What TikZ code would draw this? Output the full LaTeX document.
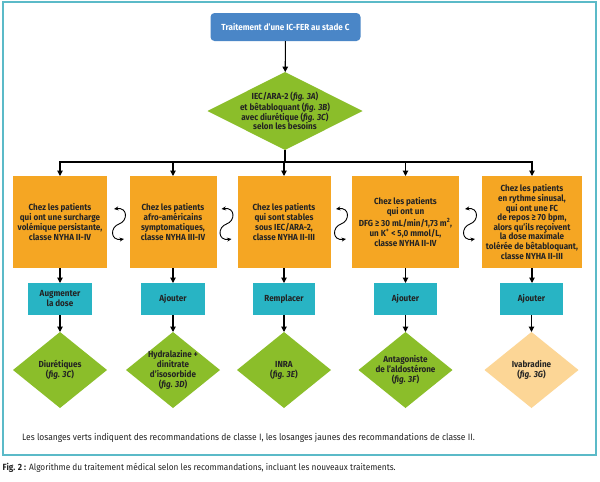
\documentclass[tikz,border=0pt]{standalone}
\usepackage{fontspec}
\setmainfont{Fira Sans}[FakeStretch=0.92]
\usetikzlibrary{shapes.geometric,arrows.meta}
\definecolor{cblue}{RGB}{74,134,199}
\definecolor{cgreen}{RGB}{139,190,42}
\definecolor{corange}{RGB}{245,166,35}
\definecolor{cteal}{RGB}{40,180,196}
\definecolor{cyellow}{RGB}{252,214,150}
\definecolor{cframe}{RGB}{91,186,200}
\definecolor{ctext}{RGB}{35,35,35}
\begin{document}
\begin{tikzpicture}[x=1pt,y=-1pt,
  bxfont/.style={font=\bfseries\fontsize{8.8}{10}\selectfont},
  obox/.style={rectangle, fill=corange, minimum width=#1, minimum height=92, inner sep=0, outer sep=0, bxfont, text=ctext, align=center},
  tbox/.style={rectangle, fill=cteal, minimum width=#1, minimum height=32, inner sep=0, outer sep=0, bxfont, text=ctext, align=center},
  gdiam/.style={diamond, fill=#1, minimum width=94, minimum height=76, inner sep=0, outer sep=0},
  lbl/.style={bxfont, text=ctext, align=center, inner sep=0},
  arr/.style={line width=1.1, draw=black, -{Triangle[length=5.5,width=5.5]}},
  conn/.style={line width=1.1, draw=black},
  carr/.style={line width=0.9, draw=black, {Stealth[length=4.5,width=4]}-{Stealth[length=4.5,width=4]}},
  smallfont/.style={font=\fontsize{9.2}{10}\selectfont}
]
\useasboundingbox (0,0) rectangle (600,482);
\fill[white] (0,0) rectangle (600,482);
\draw[cframe, line width=2] (3,1.5) rectangle (595.5,455);

% top
\node[rectangle, rounded corners=4, fill=cblue, minimum width=150, minimum height=28, inner sep=0, outer sep=0, bxfont, text=white] (top) at (285.5,27) {Traitement d'une IC-FER au stade C};
\node[diamond, fill=cgreen, minimum width=155, minimum height=78, inner sep=0, outer sep=0,
  label={[lbl, font=\bfseries\fontsize{8.8}{9.2}\selectfont]center:{IEC/ARA-2 (\textit{fig. 3A})\\et bêtabloquant (\textit{fig. 3B})\\avec diurétique (\textit{fig. 3C})\\selon les besoins}}] (d1) at (285,111) {};

% orange boxes
\node[obox=94] (o1) at (60,222) {Chez les patients\\qui ont une surcharge\\volémique persistante,\\classe NYHA II-IV};
\node[obox=87] (o2) at (173,222) {Chez les patients\\afro-américains\\symptomatiques,\\classe NYHA III-IV};
\node[obox=93] (o3) at (284,222) {Chez les patients\\qui sont stables\\sous IEC/ARA-2,\\classe NYHA II-III};
\node[obox=107] (o4) at (405.5,222) {Chez les patients\\qui ont un\\DFG ≥ 30 mL/min/1,73 m\textsuperscript{2},\\un K\textsuperscript{+} < 5,0 mmol/L,\\classe NYHA II-IV};
\node[obox=100, font=\bfseries\fontsize{8.8}{9.6}\selectfont] (o5) at (532,222) {Chez les patients\\en rythme sinusal,\\qui ont une FC\\de repos ≥ 70 bpm,\\alors qu'ils reçoivent\\la dose maximale\\tolérée de bêtabloquant,\\classe NYHA II-III};

% teal boxes
\node[tbox=64] (t1) at (60,299) {Augmenter\\la dose};
\node[tbox=64] (t2) at (173,299) {Ajouter};
\node[tbox=62] (t3) at (284,299) {Remplacer};
\node[tbox=63] (t4) at (405.5,299) {Ajouter};
\node[tbox=63] (t5) at (531.5,299) {Ajouter};

% diamonds
\node[gdiam=cgreen, label={[lbl]center:{Diurétiques\\(\textit{fig. 3C})}}] (g1) at (60,370) {};
\node[gdiam=cgreen, label={[lbl]center:{Hydralazine +\\dinitrate\\d'isosorbide\\(\textit{fig. 3D})}}] (g2) at (173,370) {};
\node[gdiam=cgreen, label={[lbl]center:{INRA\\(\textit{fig. 3E})}}] (g3) at (284,370) {};
\node[gdiam=cgreen, label={[lbl]center:{Antagoniste\\de l'aldostérone\\(\textit{fig. 3F})}}] (g4) at (405.5,370) {};
\node[gdiam=cyellow, label={[lbl]center:{Ivabradine\\(\textit{fig. 3G})}}] (g5) at (531.5,370) {};

% connectors
\coordinate (hm) at (285,162);
\coordinate (hL) at (60,162);
\coordinate (hR) at (532,162);
\draw[arr] (top) -- (d1);
\draw[conn] (d1.south) -- (hm);
\draw[conn] ([xshift=-0.55]hL) -- ([xshift=0.55]hR);
\draw[arr] (hL) -- (o1);
\draw[arr] (o2 |- hm) -- (o2);
\draw[arr] (o3 |- hm) -- (o3);
\draw[arr] (o4 |- hm) -- (o4);
\draw[arr] (hR) -- (o5);
\foreach \i in {1,...,5} {
  \draw[arr] (o\i.south) -- (o\i.south |- t\i.north);
  \draw[arr] (t\i) -- (g\i);
}

% curved double arrows
\coordinate (c1) at (119,224);
\coordinate (c2) at (226.5,224);
\coordinate (c3) at (341,224);
\coordinate (c4) at (470,224);
\foreach \c in {c1,c2,c3,c4} {
  \draw[carr] ([shift={(-5,-15)}]\c) .. controls ([shift={(9,-17)}]\c) and ([shift={(9,-3)}]\c) .. (\c)
     .. controls ([shift={(-9,3)}]\c) and ([shift={(-9,17)}]\c) .. ([shift={(5,15)}]\c);
}

% legend and caption
\node[anchor=west, inner sep=0, smallfont, text=ctext] (leg) at (22,438) {Les losanges verts indiquent des recommandations de classe I, les losanges jaunes des recommandations de classe II.};
\node[anchor=west, inner sep=0, font=\fontsize{9}{10}\selectfont, text=ctext] (cap) at (2.5,468) {\textbf{Fig. 2 :} Algorithme du traitement médical selon les recommandations, incluant les nouveaux traitements.};
\end{tikzpicture}
\end{document}
